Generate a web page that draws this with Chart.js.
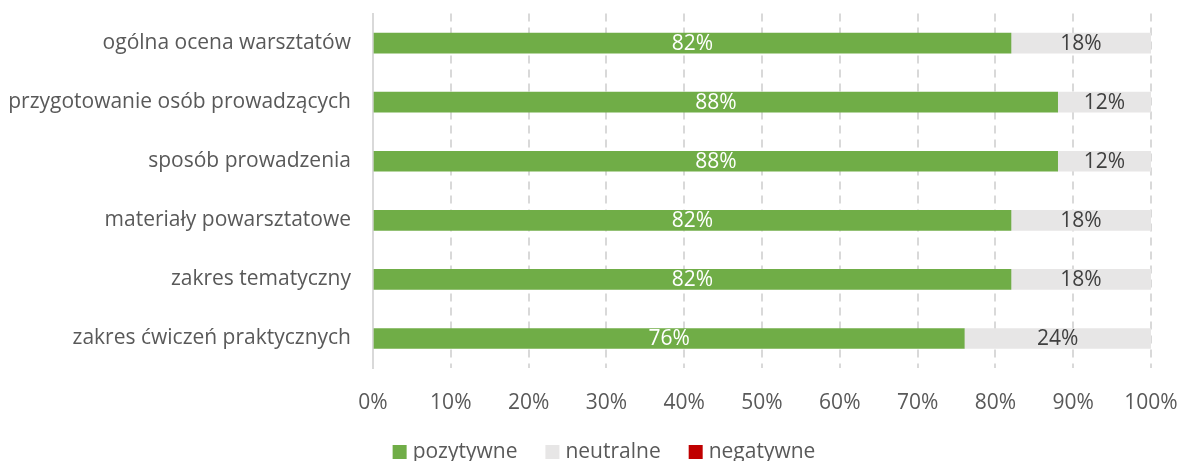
<!DOCTYPE html>
<html>
<head>
<meta charset="utf-8">
<script src="https://cdn.jsdelivr.net/npm/chart.js@4.4.0/dist/chart.umd.min.js"></script>
<style>
  html, body { margin: 0; padding: 0; background: #fff; overflow: hidden; }
  #wrap { width: 1181px; height: 496px; position: relative; top: -21px; }
</style>
</head>
<body>
<div id="wrap"><canvas id="chart"></canvas></div>
<script>
  // kategorie i wartości
  const categories = [
    "ogólna ocena warsztatów",
    "przygotowanie osób prowadzących",
    "sposób prowadzenia",
    "materiały powarsztatowe",
    "zakres tematyczny",
    "zakres ćwiczeń praktycznych"
  ];
  const positive = [82, 88, 88, 82, 82, 76];
  const neutral  = [18, 12, 12, 18, 18, 24];
  const negative = [0, 0, 0, 0, 0, 0];
  const xTicks = [0, 10, 20, 30, 40, 50, 60, 70, 80, 90, 100];

  const FONT = "'Open Sans', sans-serif";
  const GREEN = "#70ad47";
  const GREY  = "#e7e6e6";
  const RED   = "#c00000";
  const TEXT  = "#595959";
  const LINE  = "#d9d9d9";

  Chart.defaults.font.family = FONT;
  Chart.defaults.color = TEXT;

  // etykiety wartości na środku segmentów
  const barLabels = {
    id: "barLabels",
    afterDatasetsDraw(chart) {
      const ctx = chart.ctx;
      ctx.save();
      ctx.font = "21px " + FONT;
      ctx.textAlign = "center";
      ctx.textBaseline = "middle";
      chart.data.datasets.forEach((ds, i) => {
        const meta = chart.getDatasetMeta(i);
        meta.data.forEach((bar, j) => {
          const v = ds.data[j];
          if (!v) return;
          ctx.fillStyle = i === 0 ? "#ffffff" : "#404040";
          ctx.fillText(v + "%", (bar.x + bar.base) / 2, bar.y + 1);
        });
      });
      ctx.restore();
    }
  };

  // legenda pod wykresem (jak w Excelu, wyśrodkowana pod obszarem wykresu)
  const bottomLegend = {
    id: "bottomLegend",
    afterDraw(chart) {
      const ctx = chart.ctx;
      const sets = chart.data.datasets;
      ctx.save();
      ctx.font = "21px " + FONT;
      ctx.textBaseline = "middle";
      const gap = 28, box = 14, textOff = 20;
      const widths = sets.map(ds => textOff + ctx.measureText(ds.label).width);
      const total = widths.reduce((a, b) => a + b, 0) + gap * (sets.length - 1);
      let x = 604 - total / 2;
      const y = chart.height - 23;
      sets.forEach((ds, i) => {
        ctx.fillStyle = ds.backgroundColor;
        ctx.fillRect(x, y - box / 2, box, box);
        ctx.fillStyle = TEXT;
        ctx.fillText(ds.label, x + textOff, y);
        x += widths[i] + gap;
      });
      ctx.restore();
    }
  };

  new Chart(document.getElementById("chart"), {
    type: "bar",
    data: {
      labels: categories,
      datasets: [
        { label: "pozytywne", data: positive, backgroundColor: GREEN, barThickness: 20 },
        { label: "neutralne", data: neutral,  backgroundColor: GREY,  barThickness: 20 },
        { label: "negatywne", data: negative, backgroundColor: RED,   barThickness: 20, inflateAmount: 0 }
      ]
    },
    options: {
      indexAxis: "y",
      responsive: true,
      maintainAspectRatio: false,
      animation: false,
      layout: { padding: { left: 0, right: 30, top: 0, bottom: 52 } },
      plugins: {
        tooltip: { enabled: false },
        legend: { display: false }
      },
      scales: {
        x: {
          stacked: true,
          min: 0, max: 100,
          afterBuildTicks(axis) { axis.ticks = xTicks.map(v => ({ value: v })); },
          afterFit(axis) { axis.height = 55; axis.paddingLeft = 0; axis.paddingRight = 0; },
          ticks: { callback: v => v + "%", font: { size: 21 }, color: TEXT, padding: 22, maxRotation: 0 },
          grid: { color: LINE, lineWidth: 2, drawTicks: false },
          border: { display: false, dash: [8, 6] }
        },
        y: {
          stacked: true,
          afterFit(axis) { axis.width = 373; },
          ticks: { font: { size: 21 }, color: TEXT, padding: 22 },
          grid: { display: false, drawTicks: false },
          border: { display: true, color: LINE, width: 2 }
        }
      }
    },
    plugins: [barLabels, bottomLegend]
  });
</script>
</body>
</html>
